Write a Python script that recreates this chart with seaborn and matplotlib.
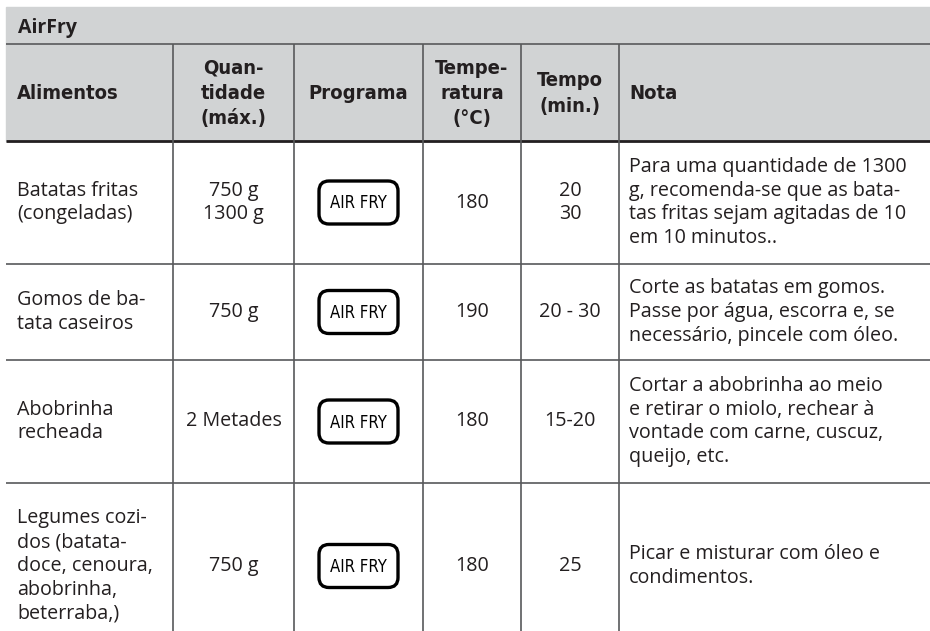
import matplotlib
matplotlib.use("Agg")
import matplotlib.pyplot as plt
from matplotlib.patches import FancyBboxPatch
import seaborn as sns

# Table content
titulo = "AirFry"
cabecalho = ["Alimentos", "Quan-\ntidade\n(máx.)", "Programa", "Tempe-\nratura\n(°C)", "Tempo\n(min.)", "Nota"]
alimentos = ["Batatas fritas\n(congeladas)", "Gomos de ba-\ntata caseiros", "Abobrinha\nrecheada",
             "Legumes cozi-\ndos (batata-\ndoce, cenoura,\nabobrinha,\nbeterraba,)"]
quantidade = ["750 g\n1300 g", "750 g", "2 Metades", "750 g"]
programa = ["AIR FRY", "AIR FRY", "AIR FRY", "AIR FRY"]
temperatura = ["180", "190", "180", "180"]
tempo = ["20\n30", "20 - 30", "15-20", "25"]
nota = ["Para uma quantidade de 1300\ng, recomenda-se que as bata-\ntas fritas sejam agitadas de 10\nem 10 minutos..",
        "Corte as batatas em gomos.\nPasse por água, escorra e, se\nnecessário, pincele com óleo.",
        "Cortar a abobrinha ao meio\ne retirar o miolo, rechear à\nvontade com carne, cuscuz,\nqueijo, etc.",
        "Picar e misturar com óleo e\ncondimentos."]

# layout (pixels); the last row runs past the bottom of the picture
W, H = 930, 631
x_left = 6
col_edges = [x_left, 173, 294, 423, 521, 619, W]
title_top, title_bottom, head_bottom = 7, 44, 141
row_edges = [head_bottom, 264, 360, 483, 649]

sns.set_theme(style="white")
plt.rcParams['font.family'] = ['Open Sans', 'DejaVu Sans']

text_col = "#231f20"
line_col = "#58595b"
gray = "#d1d3d4"

fig = plt.figure(figsize=(W / 100, H / 100), dpi=100)
ax = fig.add_axes([0, 0, 1, 1])
ax.set_xlim(0, W)
ax.set_ylim(H, 0)
ax.axis("off")

# grey header band
ax.axhspan(title_top, head_bottom, xmin=x_left / W, xmax=1, color=gray, zorder=0)
ax.hlines(title_bottom, x_left, W, color=line_col, lw=1.2)
ax.hlines(head_bottom, x_left, W, color="#231f20", lw=2)
for yb in row_edges[1:-1]:
    ax.hlines(yb, x_left, W, color=line_col, lw=1.2)
for xb in col_edges[1:-1]:
    ax.vlines(xb, title_bottom, H, color=line_col, lw=1.2)

ax.text(x_left + 12, (title_top + title_bottom) / 2 + 3, titulo, fontsize=14, fontweight="bold",
        color=text_col, va="center", ha="left")

head_font = ['DejaVu Sans']
hy = (title_bottom + head_bottom) / 2 + 1
for i, lab in enumerate(cabecalho):
    if i in (0, 5):
        x = col_edges[i] + 11 if i == 0 else col_edges[i] + 10
        ha = "left"
    else:
        x = (col_edges[i] + col_edges[i + 1]) / 2
        ha = "center"
    ax.text(x, hy, lab, fontsize=14.5, fontweight="bold", family=head_font, fontstretch="condensed",
            color=text_col, ha=ha, va="center", linespacing=1.42)

for r in range(len(alimentos)):
    yc = (row_edges[r] + row_edges[r + 1]) / 2
    kw = dict(fontsize=14.2, color=text_col, va="center", linespacing=1.25)
    ax.text(col_edges[0] + 11, yc, alimentos[r], ha="left", **kw)
    ax.text((col_edges[1] + col_edges[2]) / 2, yc, quantidade[r], ha="center", **kw)
    ax.text((col_edges[3] + col_edges[4]) / 2, yc, temperatura[r], ha="center", **kw)
    ax.text((col_edges[4] + col_edges[5]) / 2, yc, tempo[r], ha="center", **kw)
    ax.text(col_edges[5] + 10, yc, nota[r], ha="left", **kw)

    # program button
    cx = (col_edges[2] + col_edges[3]) / 2
    bw, bh = 79, 43
    box = FancyBboxPatch((cx - bw / 2, yc - bh / 2), bw, bh,
                         boxstyle="round,pad=0,rounding_size=10",
                         fc="white", ec="black", lw=2.4, zorder=3)
    ax.add_patch(box)
    ax.text(cx, yc + 1, programa[r], fontsize=12, family=head_font, fontstretch="condensed",
            color="black", ha="center", va="center", zorder=4)

fig.savefig("out.png", dpi=100)
